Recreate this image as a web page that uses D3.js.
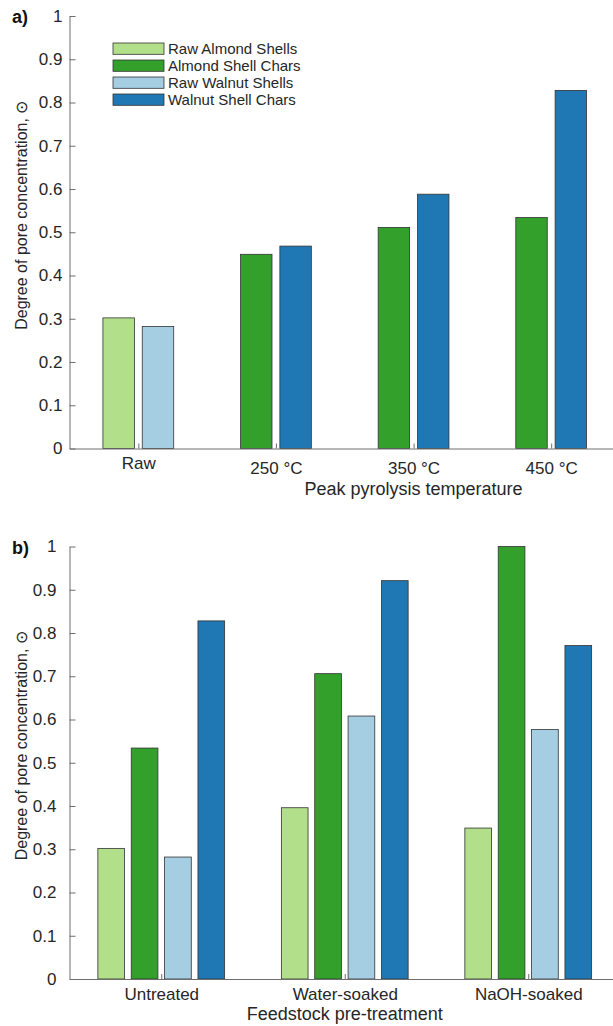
<!DOCTYPE html>
<html>
<head>
<meta charset="utf-8">
<script src="https://cdn.jsdelivr.net/npm/d3@7"></script>
<style>
  html, body { margin: 0; padding: 0; background: #fff; }
  svg { display: block; font-family: "Liberation Sans", Arial, Helvetica, sans-serif; }
</style>
</head>
<body>
<svg id="chart" width="613" height="1026"></svg>
<script>
// ---------- Data ----------
const tempCategories = ["Raw", "250 °C", "350 °C", "450 °C"];
const almondA = [0.302, 0.449, 0.511, 0.534];
const walnutA = [0.282, 0.468, 0.588, 0.828];
const isRawA = [true, false, false, false];

const treatCategories = ["Untreated", "Water-soaked", "NaOH-soaked"];
const rawAlmondB = [0.302, 0.396, 0.349];
const almondCharB = [0.534, 0.706, 1.0];
const rawWalnutB = [0.282, 0.608, 0.577];
const walnutCharB = [0.828, 0.921, 0.771];

const legendLabels = ["Raw Almond Shells", "Almond Shell Chars", "Raw Walnut Shells", "Walnut Shell Chars"];
const yTicks = [0, 0.1, 0.2, 0.3, 0.4, 0.5, 0.6, 0.7, 0.8, 0.9, 1];

const yTitle = "Degree of pore concentration, \u2299";
const xTitleA = "Peak pyrolysis temperature";
const xTitleB = "Feedstock pre-treatment";

// ---------- Styles ----------
const colors = {
  rawAlmond: "#b2df8a",
  almondChar: "#33a02c",
  rawWalnut: "#a6cee3",
  walnutChar: "#1f78b4"
};
const seriesColorsB = [colors.rawAlmond, colors.almondChar, colors.rawWalnut, colors.walnutChar];
const axisColor = "#6e6e6e";
const textColor = "#262626";
const edgeColor = "#333";

const svg = d3.select("#chart");

// MATLAB-style grouped bar geometry
function barGeom(m) {
  const gw = Math.min(0.8, m / (m + 1.5));
  return { gw, bw: gw / m * 0.8, offset: j => (j - (m - 1) / 2) * gw / m };
}

function drawPanel(cfg) {
  const g = svg.append("g");
  const n = cfg.categories.length;
  const x = d3.scaleLinear().domain([0.5, n + 0.5]).range([cfg.left, cfg.right]);
  const y = d3.scaleLinear().domain([0, 1]).range([cfg.bottom, cfg.top]);
  const geom = barGeom(cfg.series.length);

  // bars
  cfg.series.forEach((vals, j) => {
    g.append("g").selectAll("rect")
      .data(vals)
      .join("rect")
      .attr("x", (d, i) => x(i + 1 + geom.offset(j) - geom.bw / 2))
      .attr("width", x(1 + geom.bw) - x(1))
      .attr("y", d => y(d))
      .attr("height", d => y(0) - y(d))
      .attr("fill", (d, i) => cfg.color(j, i))
      .attr("stroke", edgeColor)
      .attr("stroke-width", 0.8);
  });

  // y axis
  const yAxis = d3.axisLeft(y).tickValues(yTicks).tickFormat(d3.format("~g"))
    .tickSizeInner(-6).tickSizeOuter(0).tickPadding(cfg.yPad);
  const ya = g.append("g").attr("transform", `translate(${cfg.left},0)`).call(yAxis);
  ya.select(".domain").attr("stroke", axisColor);
  ya.selectAll(".tick line").attr("stroke", axisColor);
  ya.selectAll("text").attr("fill", textColor).style("font-size", "17px")
    .attr("font-family", "Liberation Sans, Arial, sans-serif");

  // x axis
  const xAxis = d3.axisBottom(x).tickValues(d3.range(1, n + 1))
    .tickFormat((d) => cfg.categories[d - 1])
    .tickSizeInner(-5).tickSizeOuter(0).tickPadding(cfg.xPad);
  const xa = g.append("g").attr("transform", `translate(0,${cfg.bottom})`).call(xAxis);
  xa.select(".domain").attr("stroke", axisColor);
  xa.selectAll(".tick line").attr("stroke", axisColor);
  xa.selectAll("text").attr("fill", textColor).style("font-size", "17px")
    .attr("font-family", "Liberation Sans, Arial, sans-serif")
    .attr("y", d => cfg.xPad + (cfg.categories[d - 1].includes("°") ? 5 : 0));

  // x title
  g.append("text")
    .attr("x", x(cfg.xTitlePos))
    .attr("y", cfg.xTitleY)
    .attr("text-anchor", "middle")
    .attr("fill", textColor)
    .style("font-size", "18px")
    .text(cfg.xTitle);

  // y title
  g.append("text")
    .attr("transform", `translate(27,${(cfg.top + cfg.bottom) / 2 - 17}) rotate(-90)`)
    .attr("text-anchor", "middle")
    .attr("fill", textColor)
    .style("font-size", "16px")
    .text(yTitle);

  // panel letter
  g.append("text")
    .attr("x", 12)
    .attr("y", cfg.letterY)
    .attr("fill", "#111")
    .attr("font-weight", "bold")
    .style("font-size", "18px")
    .text(cfg.letter);

  return { g, x, y };
}

// Panel a
const panelA = drawPanel({
  categories: tempCategories,
  series: [almondA, walnutA],
  color: (j, i) => j === 0 ? (isRawA[i] ? colors.rawAlmond : colors.almondChar)
                           : (isRawA[i] ? colors.rawWalnut : colors.walnutChar),
  left: 69.5, right: 620, top: 16, bottom: 448.5,
  yPad: 7, xPad: 8,
  xTitle: xTitleA, xTitlePos: 3, xTitleY: 495,
  letter: "a)", letterY: 23
});

// Panel b
const panelB = drawPanel({
  categories: treatCategories,
  series: [rawAlmondB, almondCharB, rawWalnutB, walnutCharB],
  color: (j) => seriesColorsB[j],
  left: 69.5, right: 620, top: 546.5, bottom: 979,
  yPad: 13, xPad: 9,
  xTitle: xTitleB, xTitlePos: 2, xTitleY: 1020,
  letter: "b)", letterY: 554
});

// Legend (panel a)
const legend = svg.append("g").attr("transform", "translate(113,43)");
legendLabels.forEach((lab, k) => {
  const row = legend.append("g").attr("transform", `translate(0,${k * 17})`);
  row.append("rect").attr("width", 51).attr("height", 11.3)
    .attr("fill", seriesColorsB[k]).attr("stroke", edgeColor).attr("stroke-width", 0.8);
  row.append("text").attr("x", 55).attr("y", 5.8).attr("dy", "0.35em")
    .attr("fill", textColor).style("font-size", "15px").text(lab);
});
</script>
</body>
</html>
